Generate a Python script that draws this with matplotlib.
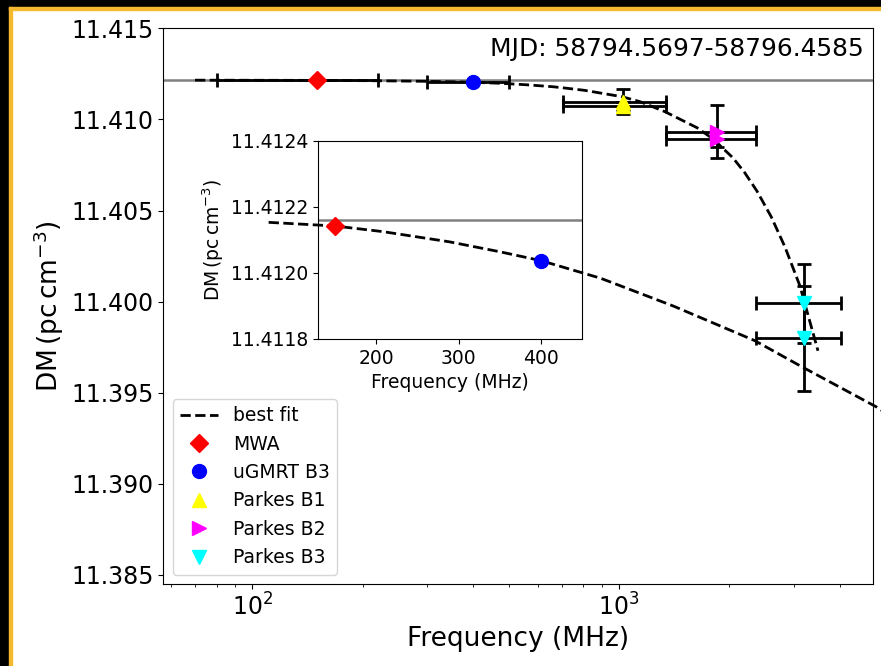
import matplotlib
matplotlib.use('Agg')
import matplotlib.pyplot as plt
from matplotlib.patches import Rectangle
from matplotlib.ticker import FormatStrFormatter

# best fit curve (MHz, pc cm^-3)
fit_freq = [69.8, 150, 208, 289, 350, 400, 472, 560, 659, 716, 806,
            1019, 1141, 1335, 1632, 1805, 2046, 2200, 2378, 2600, 2836,
            3116, 3489]
fit_dm = [11.412153, 11.412142, 11.412125, 11.412094, 11.412064, 11.412037,
          11.411984, 11.411900, 11.411795, 11.411716, 11.411595,
          11.411246, 11.410974, 11.410423, 11.409545, 11.408930, 11.407888,
          11.407092, 11.406071, 11.404666, 11.402998, 11.400857, 11.397301]
dm_ref = 11.41216

# measurements
mwa_freq = [150]
mwa_ferr = [70]
mwa_dm = [11.412142]
mwa_dmerr = [0.000003]

ugmrt_freq = [400]
ugmrt_ferr = [100]
ugmrt_dm = [11.412037]
ugmrt_dmerr = [0.000003]

b1_freq = [1024, 1024]
b1_ferr = [320, 320]
b1_dm = [11.410972, 11.410736]
b1_dmerr = [0.0007, 0.0002]

b2_freq = [1856, 1856]
b2_ferr = [512, 512]
b2_dm = [11.409325, 11.408908]
b2_dmerr = [0.00145, 0.0004]

b3_freq = [3200, 3200]
b3_ferr = [832, 832]
b3_dm = [11.399908, 11.397987]
b3_dmerr = [0.00218, 0.00288]

fig = plt.figure(figsize=(8.81, 6.66), dpi=100)
ax = fig.add_axes([0.18536, 0.12312, 0.80522, 0.83438])

ax.axhline(dm_ref, color='grey', lw=1.8, zorder=1)
ax.plot(fit_freq, fit_dm, 'k--', lw=2, label='best fit', zorder=2)

groups = [
    (mwa_freq, mwa_ferr, mwa_dm, mwa_dmerr, 'D', 'red', 9, 'MWA'),
    (ugmrt_freq, ugmrt_ferr, ugmrt_dm, ugmrt_dmerr, 'o', 'blue', 10, 'uGMRT B3'),
    (b1_freq, b1_ferr, b1_dm, b1_dmerr, '^', 'yellow', 10.5, 'Parkes B1'),
    (b2_freq, b2_ferr, b2_dm, b2_dmerr, '>', 'magenta', 10, 'Parkes B2'),
    (b3_freq, b3_ferr, b3_dm, b3_dmerr, 'v', 'cyan', 10, 'Parkes B3'),
]
for f, fe, d, de, m, c, ms, lab in groups:
    ax.errorbar(f, d, xerr=fe, yerr=de, fmt='none', ecolor='k',
                elinewidth=2, capsize=5, capthick=2, zorder=2)
    ax.plot(f, d, m, color=c, ms=ms, ls='none', label=lab, zorder=3)

ax.set_xscale('log')
ax.set_xlim(57.2, 4920)
ax.set_ylim(11.3845, 11.415)
ax.yaxis.set_major_formatter(FormatStrFormatter('%.3f'))
ax.tick_params(labelsize=17)
ax.set_xlabel('Frequency (MHz)', fontsize=19)
ax.set_ylabel(r'DM$\,(\mathrm{pc\,cm^{-3}})$', fontsize=19)
ax.text(0.987, 0.985, 'MJD: 58794.5697-58796.4585', transform=ax.transAxes,
        ha='right', va='top', fontsize=17.9)
ax.legend(loc='lower left', fontsize=13.5)

# inset zoom on the low frequency points
axin = fig.add_axes([0.3613, 0.491, 0.2997, 0.2977])
axin.axhline(dm_ref, color='grey', lw=1.8, zorder=1)
axin.plot(fit_freq, fit_dm, 'k--', lw=2, clip_on=False, zorder=2)
axin.plot(mwa_freq, mwa_dm, 'D', color='red', ms=9, zorder=3)
axin.plot(ugmrt_freq, ugmrt_dm, 'o', color='blue', ms=10, zorder=3)
axin.set_xlim(130, 450)
axin.set_ylim(11.4118, 11.4124)
axin.set_xticks([200, 300, 400])
axin.set_yticks([11.4118, 11.4120, 11.4122, 11.4124])
axin.yaxis.set_major_formatter(FormatStrFormatter('%.4f'))
axin.tick_params(labelsize=13.5)
axin.set_xlabel('Frequency (MHz)', fontsize=13.5)
axin.set_ylabel(r'DM$\,(\mathrm{pc\,cm^{-3}})$', fontsize=13.5)

# screenshot frame: black strips with a yellow edge on left and top
W, H = 881.0, 666.0
fig.add_artist(Rectangle((0, 0), 9.3 / W, 1, transform=fig.transFigure,
                         color='black', zorder=10))
fig.add_artist(Rectangle((0, 1 - 7.3 / H), 1, 7.3 / H, transform=fig.transFigure,
                         color='black', zorder=10))
fig.add_artist(Rectangle((9.3 / W, 0), 2.7 / W, 1 - 7.3 / H, transform=fig.transFigure,
                         color='#f5b82e', zorder=10))
fig.add_artist(Rectangle((9.3 / W, 1 - 10 / H), 1, 2.7 / H, transform=fig.transFigure,
                         color='#f5b82e', zorder=10))

fig.savefig('out.png', dpi=100)
